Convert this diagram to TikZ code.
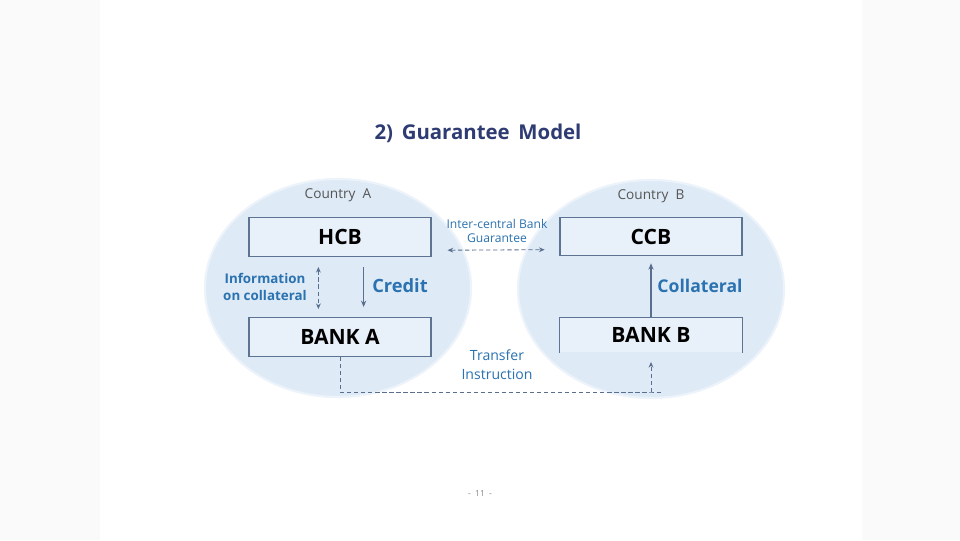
\documentclass[tikz,border=0pt]{standalone}
\usepackage{fontspec}
\setmainfont{Open Sans}
\usetikzlibrary{arrows.meta,positioning,shapes.geometric}
\definecolor{navyc}{HTML}{2F3C73}
\definecolor{bluec}{HTML}{2A72B0}
\definecolor{ovalc}{HTML}{DEEAF6}
\definecolor{boxc}{HTML}{E8F1FA}
\definecolor{edgec}{HTML}{5C7492}
\definecolor{linec}{HTML}{5A6E8E}
\definecolor{greyc}{HTML}{555555}
\definecolor{pagec}{HTML}{FAFAFA}
\tikzset{
  ar/.style={-{Stealth[length=1.6mm,width=1.3mm]},thick,linec},
  dar/.style={{Stealth[length=1.4mm,width=1.2mm]}-{Stealth[length=1.4mm,width=1.2mm]},linec,densely dashed,semithick},
  dln/.style={linec,densely dashed,semithick},
  oval/.style={ellipse,fill=ovalc,draw=ovalc!55,line width=1.5pt,minimum width=6.65cm,minimum height=5.45cm,inner sep=0pt},
  bank/.style={draw=edgec,thick,fill=boxc,minimum width=4.55cm,minimum height=0.97cm,inner sep=0pt,font=\fontsize{15}{17}\selectfont\bfseries},
  ctry/.style={text=greyc,font=\fontsize{9.7}{11}\selectfont},
  lbl/.style={text=bluec,align=center,inner sep=1pt}
}
\begin{document}
\begin{tikzpicture}[x=0.025cm,y=-0.025cm]
\fill[pagec] (0,0) rectangle (960,540);
\fill[white] (100,0) rectangle (862,540);
\useasboundingbox (0,0) rectangle (960,540);
\node[text=navyc,font=\fontsize{14.5}{17}\selectfont\bfseries] (title) at (478,133) {2)~\,Guarantee~\,Model};
% the two countries
\node[oval] (ova) at (338,288) {};
\node[oval] (ovb) at (651,289) {};
\node[ctry] (cta) at (338,195) {Country~~A};
\node[ctry] (ctb) at (651,196) {Country~~B};
% banks
\node[bank] (hcb) at (340,237) {HCB};
\node[bank] (banka) at (340,337) {BANK~A};
\node[bank] (ccb) at (651,236.5) {CCB};
\node[bank,draw=none,minimum height=0.85cm] (bankb) at (651,335) {BANK~B};
\draw[edgec,thick] (bankb.south west) -- (bankb.north west) -- (bankb.north east) -- (bankb.south east);
% inside country A
\draw[dar] ([xshift=-0.54cm,yshift=-0.25cm]hcb.south) -- ([xshift=-0.54cm,yshift=0.2cm]banka.north);
\draw[ar] ([xshift=0.59cm,yshift=-0.25cm]hcb.south) -- ([xshift=0.59cm,yshift=0.25cm]banka.north);
\node[lbl,font=\fontsize{9.5}{11.5}\selectfont\bfseries] (info) at (265,287) {Information\\on collateral};
\node[lbl,font=\fontsize{13}{15}\selectfont\bfseries] (cred) at (400,286) {Credit};
% inside country B
\draw[ar,shorten >=0.17cm] (bankb.north) -- (ccb.south);
\node[lbl,font=\fontsize{12.5}{15}\selectfont\bfseries] (coll) at (700,286) {Collateral};
% between the central banks
\draw[dar] ([xshift=0.4cm,yshift=-0.33cm]hcb.east) -- ([xshift=-0.37cm,yshift=-0.33cm]ccb.west);
\node[lbl,font=\fontsize{8.6}{10.5}\selectfont] (guar) at (497,231) {Inter-central Bank\\Guarantee};
% transfer instruction
\coordinate (tc) at (651,392);
\coordinate (tend) at (651,362);
\draw[dln] (banka.south) |- (tc) -- ++(10,0);
\draw[dln,-{Stealth[length=1.4mm,width=1.2mm]}] (tc) -- (tend);
\node[lbl,font=\fontsize{10}{13.5}\selectfont] (trans) at (497,365) {Transfer\\Instruction};
\node[text=greyc!70,font=\fontsize{6}{7}\selectfont] (pnum) at (480,493) {-~~11~~-};
\end{tikzpicture}
\end{document}
